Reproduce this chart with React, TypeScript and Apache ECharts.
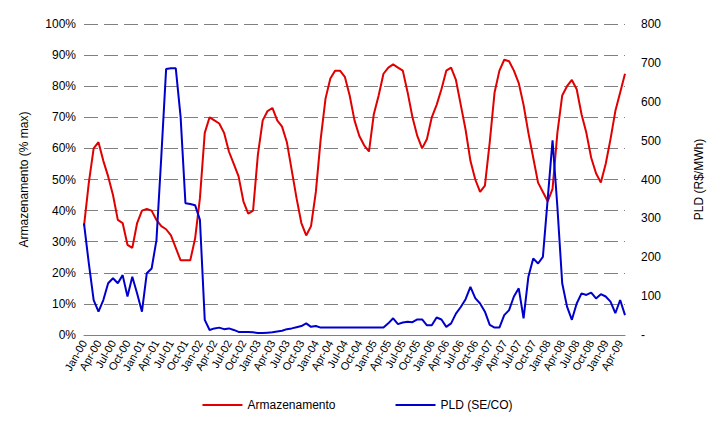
import React, { useEffect, useRef } from "react";
import * as echarts from "echarts";

const monthNames = ["Jan","Feb","Mar","Apr","May","Jun","Jul","Aug","Sep","Oct","Nov","Dec"];
const months: string[] = [];
for (let i = 0; i < 113; i++) {
  months.push(monthNames[i % 12] + "-" + String(Math.floor(i / 12)).padStart(2, "0"));
}
const armazenamento = [
  35,49,60,62,56,51,45,37,36,29,28,36,40,40.5,40,37,35,34,32,28,
  24,24,24,31,44,65,70,69,68,65,59,55,51,43,39,40,58,69,72,73,
  69,67,62,53,44,36,32,35,46,63,76,82.5,85,85,83,77,69,64,61,59,
  71,77,84,86,87,86,85,78,70,64,60,63,70,74,79,85,86,82,74,66,
  56,50,46,48,62,78,85,88.5,88,85,81,74,65,57,49,46,43,47,65,77,
  80,82,79,71,65,57,52,49,55,63,72,78,84
];
const pld = [
  287,184,90,60,90,133,146,133,154,99,150,107,60,159,171,244,458,684,686,686,
  561,339,337,334,296,39,13,17,19,15,17,13,8,8,8,7,5,5,6,7,
  9,11,15,17,20,23,30,21,23,19,19,19,19,19,19,19,19,19,19,19,
  19,19,19,30,43,28,32,34,33,40,40,25,25,45,40,21,30,55,72,92,
  124,95,81,60,26,19,19,51,64,99,120,43,150,197,184,201,350,501,330,133,
  73,39,81,107,103,109,94,105,99,86,56,90,51
];

export default function App() {
  const ref = useRef<HTMLDivElement>(null);
  useEffect(() => {
    const chart = echarts.init(ref.current!, undefined, { renderer: "svg" });
    const font = "Liberation Sans";
    const dashed = { show: true, lineStyle: { color: "#808080", type: [14, 6] as any, width: 1 } };
    chart.setOption({
      animation: false,
      textStyle: { fontFamily: font },
      grid: { left: 84, right: 90, top: 24, bottom: 107 },
      legend: {
        bottom: 26, left: "center", itemGap: 60, itemWidth: 40, itemHeight: 2,
        icon: "rect",
        textStyle: { fontSize: 12, color: "#000", fontFamily: font },
        data: ["Armazenamento", "PLD (SE/CO)"],
      },
      xAxis: {
        type: "category", data: months, boundaryGap: false,
        axisLine: { lineStyle: { color: "#808080" } },
        axisTick: { show: false },
        axisLabel: { interval: 2, rotate: 60, fontSize: 11, color: "#000", margin: 6 },
      },
      yAxis: [
        {
          type: "value", min: 0, max: 1, interval: 0.1,
          name: "Armazenamento (% max)", nameLocation: "middle", nameGap: 54, nameRotate: 90,
          nameTextStyle: { fontSize: 12, color: "#000" },
          axisLabel: { formatter: (v: number) => Math.round(v * 100) + "%", fontSize: 12, color: "#000" },
          splitLine: dashed, axisLine: { show: false }, axisTick: { show: false },
        },
        {
          type: "value", min: 0, max: 800, interval: 100,
          name: "PLD (R$/MWh)", nameLocation: "middle", nameGap: 68, nameRotate: 90,
          nameTextStyle: { fontSize: 12, color: "#000" },
          axisLabel: { formatter: (v: number) => (v === 0 ? "-" : String(v)), fontSize: 12, color: "#000", margin: 16 },
          splitLine: { show: false }, axisLine: { show: false }, axisTick: { show: false },
        },
      ],
      series: [
        {
          name: "Armazenamento", type: "line", yAxisIndex: 0, showSymbol: false,
          data: armazenamento.map((v) => v / 100),
          lineStyle: { color: "#e00000", width: 2 }, itemStyle: { color: "#e00000" },
        },
        {
          name: "PLD (SE/CO)", type: "line", yAxisIndex: 1, showSymbol: false,
          data: pld,
          lineStyle: { color: "#0000cc", width: 2 }, itemStyle: { color: "#0000cc" },
        },
      ],
    });
    return () => chart.dispose();
  }, []);
  return <div ref={ref} style={{ width: 715, height: 442, margin: -8 }} />;
}
